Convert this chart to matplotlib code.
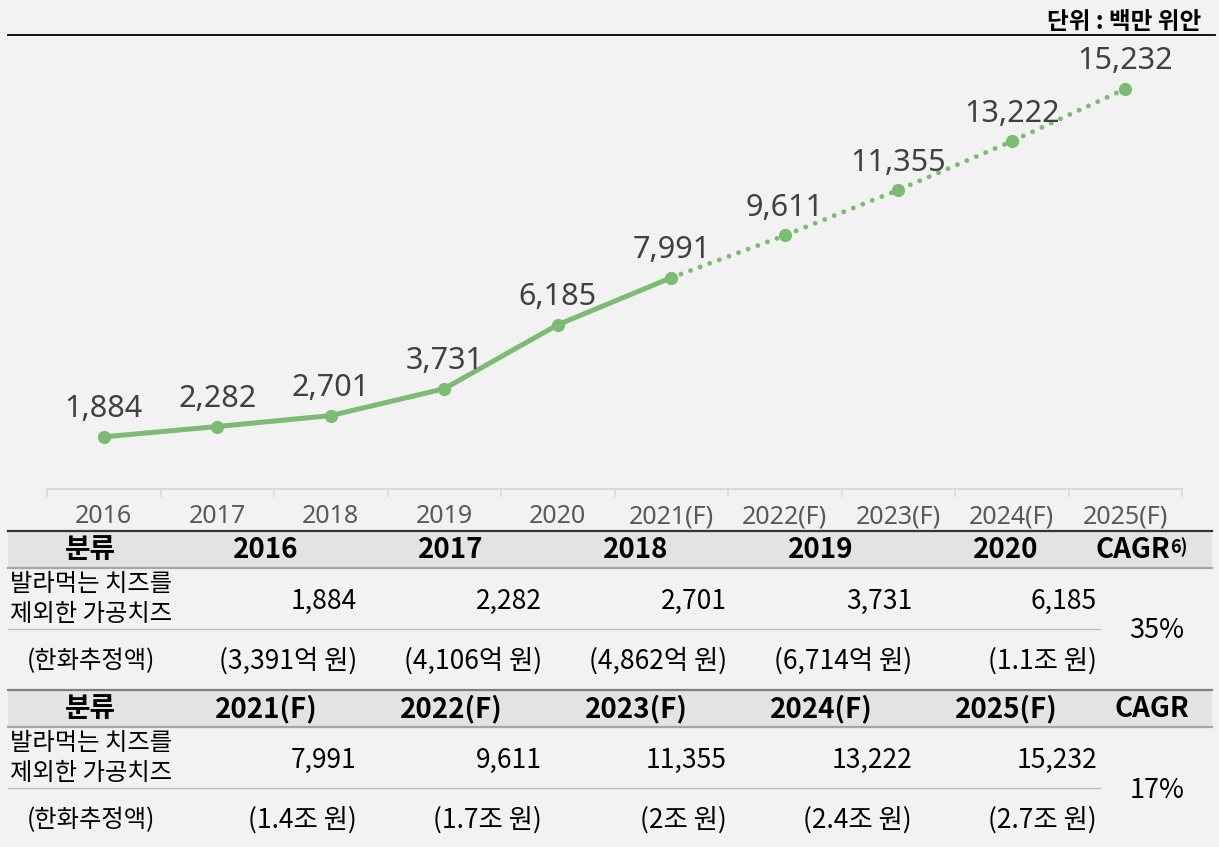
import matplotlib.pyplot as plt
from matplotlib.ticker import FixedLocator

# data
years = ['2016', '2017', '2018', '2019', '2020',
         '2021(F)', '2022(F)', '2023(F)', '2024(F)', '2025(F)']
values = [1884, 2282, 2701, 3731, 6185, 7991, 9611, 11355, 13222, 15232]
krw = ['(3,391억 원)', '(4,106억 원)', '(4,862억 원)', '(6,714억 원)', '(1.1조 원)',
       '(1.4조 원)', '(1.7조 원)', '(2조 원)', '(2.4조 원)', '(2.7조 원)']
cagr = ['35%', '17%']
cagr_head = ['CAGR', 'CAGR']
row_label = ['발라먹는 치즈를', '제외한 가공치즈']
krw_label = '(한화추정액)'
cat_label = '분류'
unit = '단위 : 백만 위안'
n_actual = 6  # 2016~2021 solid line

bg = '#f2f2f2'
green = '#7dba74'
kr = ['Noto Sans CJK KR', 'DejaVu Sans']

W, H = 1219, 847
fig = plt.figure(figsize=(W / 100, H / 100), dpi=100, facecolor=bg)

# line chart
ax = fig.add_axes([47 / W, 1 - 489 / H, (1182 - 47) / W, (489 - 35) / H])
ax.patch.set_visible(False)
x = list(range(len(years)))
ax.plot(x[:n_actual], values[:n_actual], color=green, lw=3.6,
        solid_capstyle='round', zorder=3)
ax.plot(x[n_actual - 1:], values[n_actual - 1:], color=green, lw=3.5,
        linestyle=(0, (0.01, 2.1)), dash_capstyle='round', zorder=3)
ax.plot(x, values, 'o', color=green, ms=8.5, zorder=4)
for xi, v in zip(x, values):
    ax.annotate(f'{v:,}', (xi, v), xytext=(0, 14), textcoords='offset points',
                ha='center', va='baseline', fontsize=22, color='#404040',
                family='Noto Sans')

ax.set_xlim(-0.5, len(years) - 0.5)
ax.set_ylim(-115, 17300)
ax.set_xticks(x)
ax.set_xticklabels(years, family='Noto Sans', fontsize=18, color='#595959')
ax.xaxis.set_minor_locator(FixedLocator([i - 0.5 for i in range(len(years) + 1)]))
ax.tick_params(axis='x', which='major', length=0, pad=11)
ax.tick_params(axis='x', which='minor', length=6, color='#d9d9d9', width=1.2)
ax.set_yticks([])
for s in ['left', 'right', 'top']:
    ax.spines[s].set_visible(False)
ax.spines['bottom'].set_color('#d9d9d9')
ax.spines['bottom'].set_linewidth(1.5)

# overlay in pixel coordinates for header and table
tx = fig.add_axes([0, 0, 1, 1], zorder=-1)
tx.set_xlim(0, W)
tx.set_ylim(H, 0)
tx.axis('off')

tx.plot([8, 1215], [35, 35], color='black', lw=1.3)
tx.text(1201, 29, unit, ha='right', va='baseline', fontsize=17,
        fontweight='bold', family=kr)

col_c = [266 + 185 * i for i in range(5)]
col_r = [c + 91 for c in col_c]

for blk in range(2):
    top = 531 + blk * 159
    line_col = '#333333' if blk == 0 else '#7f7f7f'
    tx.fill_between([8, 1212], top, top + 37, color='#e3e3e3', lw=0)
    tx.plot([8, 1212], [top, top], color=line_col, lw=1.6)
    tx.plot([8, 1212], [top + 37, top + 37], color='#a6a6a6', lw=1.6)
    tx.plot([8, 1100], [top + 98, top + 98], color='#bfbfbf', lw=1.0)

    hy = top + 19
    tx.text(90, hy, cat_label, ha='center', va='center', fontsize=20,
            fontweight='bold', family=kr)
    for j in range(5):
        k = blk * 5 + j
        tx.text(col_c[j], hy, years[k], ha='center', va='center', fontsize=20,
                fontweight='bold', family=kr)
        tx.text(col_r[j], top + 70, f'{values[k]:,}', ha='right', va='center',
                fontsize=19, family=kr)
        tx.text(col_r[j], top + 130, krw[k], ha='right', va='center',
                fontsize=19, family=kr)
    if blk == 0:
        t = tx.text(1170, hy, cagr_head[blk], ha='right', va='center',
                    fontsize=20, fontweight='bold', family=kr)
        tx.annotate('6)', xy=(1, 0.95), xycoords=t, ha='left', va='top',
                    fontsize=13, fontweight='bold', family=kr)
    else:
        tx.text(1152, hy, cagr_head[blk], ha='center', va='center',
                fontsize=20, fontweight='bold', family=kr)
    tx.text(10, top + 53, row_label[0], ha='left', va='center', fontsize=17.5,
            family=kr)
    tx.text(10, top + 83, row_label[1], ha='left', va='center', fontsize=17.5,
            family=kr)
    tx.text(91, top + 130, krw_label, ha='center', va='center', fontsize=17.5,
            family=kr)
    tx.text(1157, top + 100, cagr[blk], ha='center', va='center', fontsize=19.5,
            family=kr)

fig.savefig('out.png', dpi=100, facecolor=bg)
